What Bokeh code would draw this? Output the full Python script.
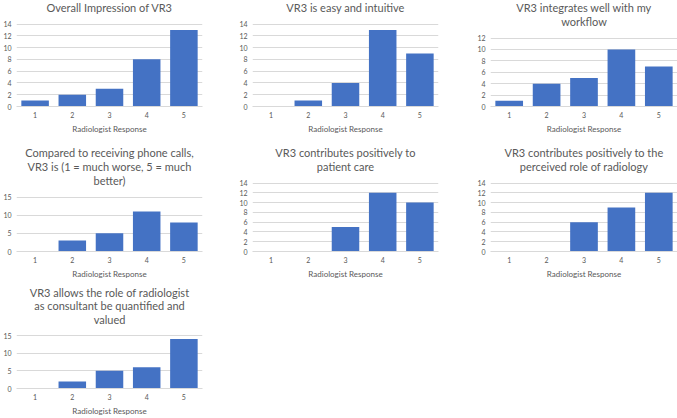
from bokeh.plotting import figure
from bokeh.layouts import column, row
from bokeh.models import FixedTicker, Range1d, ColumnDataSource, Label
from bokeh.embed import file_html
from bokeh.resources import INLINE

# ---- data ----
responses = [1, 2, 3, 4, 5]
response_labels = ["1", "2", "3", "4", "5"]

overall = [1, 2, 3, 8, 13]
easy = [0, 1, 4, 13, 9]
workflow = [1, 4, 5, 10, 7]
phone = [0, 3, 5, 11, 8]
patient = [0, 0, 5, 12, 10]
role = [0, 0, 6, 9, 12]
consultant = [0, 2, 5, 6, 14]

titles = [
    ["Overall Impression of VR3"],
    ["VR3 is easy and intuitive"],
    ["VR3 integrates well with my", "workflow"],
    ["Compared to receiving phone calls,", "VR3 is (1 = much worse, 5 = much", "better)"],
    ["VR3 contributes positively to", "patient care"],
    ["VR3 contributes positively to the", "perceived role of radiology"],
    ["VR3 allows the role of radiologist", "as consultant be quantified and", "valued"],
]
series = [overall, easy, workflow, phone, patient, role, consultant]

ticks_14 = [0, 2, 4, 6, 8, 10, 12, 14]
ticks_12 = [0, 2, 4, 6, 8, 10, 12]
ticks_15 = [0, 5, 10, 15]
y_ticks = [ticks_14, ticks_14, ticks_12, ticks_15, ticks_14, ticks_14, ticks_15]

x_title = "Radiologist Response"

# ---- style / layout ----
BAR = "#4472C4"
TXT = "#595959"
GRID = "#D9D9D9"
FONT = "Lato"

col_w = [225, 225, 227]
col_left = [14, 27, 40]
col_right = [23, 12, 0]
row_h = [145, 140, 133]
row_bottom = [39, 34, 27]
TITLE_FIRST = 7      # px from figure top to first title line centre
LINE_STEP = 14       # px between title lines
GRID_GAP = 16.5      # px from last title line centre to top gridline


def make_chart(i):
    r, c = divmod(i, 3)
    ticks = y_ticks[i]
    ymax = ticks[-1]
    lines = titles[i]
    F = row_h[r] - row_bottom[r]                 # frame height in px
    g = TITLE_FIRST + LINE_STEP * (len(lines) - 1) + GRID_GAP
    y_end = ymax * F / (F - g)                   # room above top tick for title

    p = figure(
        width=col_w[c], height=row_h[r],
        x_range=Range1d(0.5, 5.5), y_range=Range1d(0, y_end),
        output_backend="svg", toolbar_location=None, tools="",
        min_border_left=col_left[c], min_border_right=col_right[c],
        min_border_top=0, min_border_bottom=row_bottom[r],
    )
    p.outline_line_color = None
    p.background_fill_color = "white"
    p.border_fill_color = "white"

    for k, line in enumerate(lines):
        yc = TITLE_FIRST + LINE_STEP * k
        p.add_layout(Label(
            x=3, y=y_end * (F - yc) / F, text=line,
            text_align="center", text_baseline="middle",
            text_font=FONT, text_font_size="11px", text_color=TXT))

    src = ColumnDataSource(dict(x=responses, top=series[i]))
    p.vbar(x="x", top="top", width=0.74, bottom=0, source=src,
           fill_color=BAR, line_color=None)

    p.xgrid.grid_line_color = None
    p.ygrid.grid_line_color = GRID
    p.ygrid.grid_line_width = 1

    ya = p.yaxis[0]
    ya.ticker = FixedTicker(ticks=ticks)
    ya.axis_line_color = None
    ya.major_tick_line_color = None
    ya.minor_tick_line_color = None
    ya.major_tick_out = 0
    ya.major_tick_in = 0
    ya.minor_tick_out = 0
    ya.major_label_text_font = FONT
    ya.major_label_text_font_size = "7px"
    ya.major_label_text_color = TXT
    ya.major_label_standoff = 5

    xa = p.xaxis[0]
    xa.ticker = FixedTicker(ticks=responses)
    xa.major_label_overrides = {k: v for k, v in zip(responses, response_labels)}
    xa.axis_line_color = GRID
    xa.major_tick_line_color = None
    xa.minor_tick_line_color = None
    xa.major_tick_out = 0
    xa.major_tick_in = 0
    xa.minor_tick_out = 0
    xa.major_label_text_font = FONT
    xa.major_label_text_font_size = "7px"
    xa.major_label_text_color = TXT
    xa.major_label_standoff = 5
    xa.axis_label = x_title
    xa.axis_label_text_font = FONT
    xa.axis_label_text_font_size = "8px"
    xa.axis_label_text_font_style = "normal"
    xa.axis_label_text_color = TXT
    xa.axis_label_standoff = 3
    return p


charts = [make_chart(i) for i in range(7)]
layout = column(
    row(charts[0], charts[1], charts[2], spacing=0),
    row(charts[3], charts[4], charts[5], spacing=0),
    row(charts[6], spacing=0),
    spacing=0,
)

open("out.html", "w").write(file_html(layout, INLINE))
